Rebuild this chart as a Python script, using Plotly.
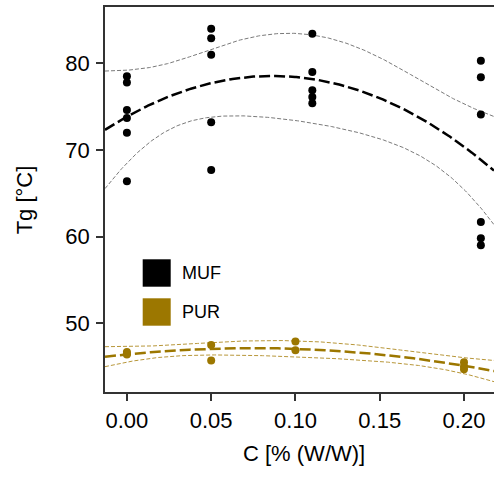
import numpy as np
import plotly.graph_objects as go

# ---- data ----
muf_x = [0.0]*6 + [0.05]*5 + [0.11]*5 + [0.21]*6
muf_y = [78.5, 77.8, 74.6, 73.7, 72.0, 66.4,
         84.0, 82.9, 81.0, 73.2, 67.7,
         83.4, 79.0, 76.9, 76.1, 75.4,
         80.3, 78.4, 74.1, 61.7, 59.8, 59.0]

pur_x = [0.0]*3 + [0.05]*2 + [0.10]*2 + [0.20]*3
pur_y = [46.7, 46.5, 46.4,
         47.5, 45.7,
         47.9, 46.9,
         45.5, 45.0, 44.7]

x_ticks = [0.00, 0.05, 0.10, 0.15, 0.20]
x_ticklabels = ["0.00", "0.05", "0.10", "0.15", "0.20"]
y_ticks = [50, 60, 70, 80]

X_RANGE = [-0.013, 0.2178]
Y_RANGE = [42.07, 86.5]

MUF_COL = "#000000"
MUF_BAND = "#7a7a7a"
PUR_COL = "#9c7700"
PUR_BAND = "#b8973a"


def t_quant(df):
    z = 1.959964
    g1 = (z**3 + z) / 4
    g2 = (5*z**5 + 16*z**3 + 3*z) / 96
    g3 = (3*z**7 + 19*z**5 + 17*z**3 - 15*z) / 384
    return z + g1/df + g2/df**2 + g3/df**3


def quad_fit(x, y, grid):
    x = np.asarray(x, float)
    y = np.asarray(y, float)
    X = np.column_stack([np.ones_like(x), x, x**2])
    beta, *_ = np.linalg.lstsq(X, y, rcond=None)
    n = len(x)
    resid = y - X @ beta
    s2 = resid @ resid / (n - 3)
    XtXi = np.linalg.inv(X.T @ X)
    G = np.column_stack([np.ones_like(grid), grid, grid**2])
    fit = G @ beta
    se = np.sqrt(s2 * np.einsum("ij,jk,ik->i", G, XtXi, G))
    t = t_quant(n - 3)
    return fit, fit - t*se, fit + t*se


grid = np.linspace(X_RANGE[0], X_RANGE[1], 300)

fig = go.Figure()


def add_group(x, y, col, band_col):
    fit, lo, hi = quad_fit(x, y, grid)
    for b in (lo, hi):
        fig.add_trace(go.Scatter(x=grid, y=b, mode="lines",
                                 line=dict(color=band_col, width=1, dash="4px,2px"),
                                 showlegend=False, hoverinfo="skip"))
    fig.add_trace(go.Scatter(x=grid, y=fit, mode="lines",
                             line=dict(color=col, width=2.5, dash="11px,4px"),
                             showlegend=False, hoverinfo="skip"))
    fig.add_trace(go.Scatter(x=x, y=y, mode="markers",
                             marker=dict(color=col, size=8),
                             showlegend=False))


add_group(muf_x, muf_y, MUF_COL, MUF_BAND)
add_group(pur_x, pur_y, PUR_COL, PUR_BAND)

FONT = "Liberation Sans, Arial, sans-serif"

# legend (drawn manually to get large key squares)
legend_items = [("MUF", MUF_COL, 0.2735, 0.3447), ("PUR", PUR_COL, 0.1722, 0.2434)]
shapes = []
annotations = []
for name, col, y0, y1 in legend_items:
    shapes.append(dict(type="rect", xref="paper", yref="paper",
                       x0=0.0969, x1=0.1689, y0=y0, y1=y1,
                       fillcolor=col, line=dict(width=0)))
    annotations.append(dict(text=name, xref="paper", yref="paper",
                            x=0.1928, y=(y0 + y1) / 2, xanchor="left", yanchor="middle",
                            showarrow=False, font=dict(size=18, color="#000", family=FONT)))

annotations.append(dict(text="C [% (W/W)]", xref="paper", yref="paper",
                        x=0.5116, y=-0.161, xanchor="center", yanchor="middle",
                        showarrow=False, font=dict(size=22, color="#000", family=FONT)))
annotations.append(dict(text="Tg [°C]", xref="paper", yref="paper",
                        x=-0.206, y=0.5, xanchor="center", yanchor="middle", textangle=-90,
                        showarrow=False, font=dict(size=22, color="#000", family=FONT)))

fig.update_layout(
    width=494, height=477,
    margin=dict(l=105, r=0, t=7, b=85),
    paper_bgcolor="white", plot_bgcolor="white",
    showlegend=False,
    shapes=shapes, annotations=annotations,
    font=dict(family=FONT, size=22, color="#000"),
)
fig.update_xaxes(range=X_RANGE, tickvals=x_ticks, ticktext=x_ticklabels,
                 showgrid=False, zeroline=False,
                 showline=True, linecolor="#333", linewidth=1.5, mirror=True,
                 ticks="outside", ticklen=7, tickwidth=1.5, tickcolor="#333",
                 ticklabelstandoff=1,
                 tickfont=dict(size=22, color="#000", family=FONT))
fig.update_yaxes(range=Y_RANGE, tickvals=y_ticks,
                 showgrid=False, zeroline=False,
                 showline=True, linecolor="#333", linewidth=1.5, mirror=False,
                 ticks="outside", ticklen=7, tickwidth=1.5, tickcolor="#333",
                 ticklabelstandoff=2,
                 tickfont=dict(size=22, color="#000", family=FONT))

fig.write_html(
    "out.html",
    config={"displayModeBar": False},
    post_script="document.body.style.margin='0';"
                "document.body.style.overflow='hidden';"
                "document.documentElement.style.overflow='hidden';",
)
